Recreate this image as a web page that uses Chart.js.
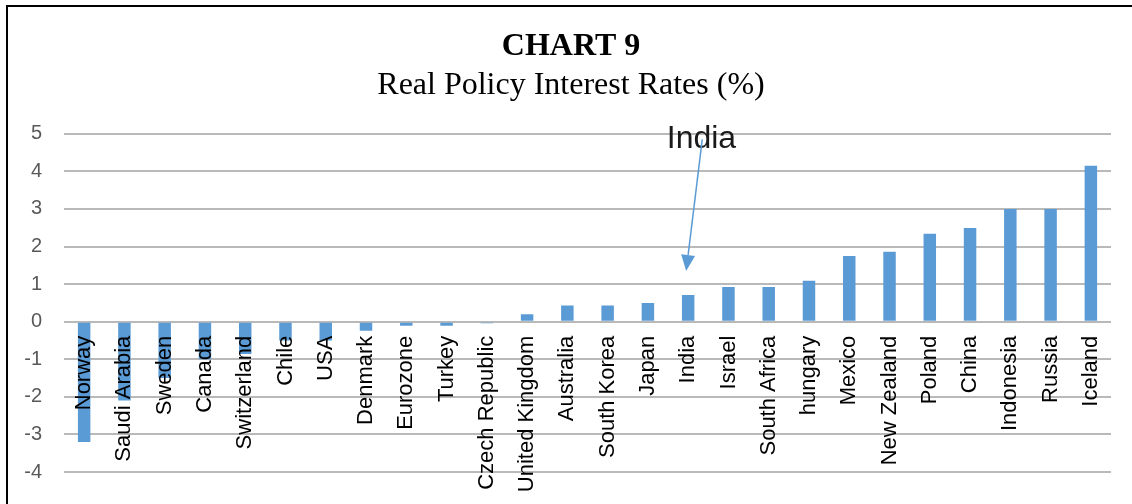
<!DOCTYPE html>
<html>
<head>
<meta charset="utf-8">
<script src="https://cdn.jsdelivr.net/npm/chart.js@4.4.1/dist/chart.umd.min.js"></script>
<style>
  html, body { margin: 0; padding: 0; background: #fff; }
  #wrap { width: 1132px; height: 504px; }
</style>
</head>
<body>
<div id="wrap"><canvas id="chart"></canvas></div>
<script>
// Countries, sorted by real policy rate
const countries = ['Norway', 'Saudi Arabia', 'Sweden', 'Canada', 'Switzerland', 'Chile', 'USA',
  'Denmark', 'Eurozone', 'Turkey', 'Czech Republic', 'United Kingdom', 'Australia', 'South Korea',
  'Japan', 'India', 'Israel', 'South Africa', 'hungary', 'Mexico', 'New Zealand', 'Poland',
  'China', 'Indonesia', 'Russia', 'Iceland']

// Real policy interest rate (%)
const realRates = [-3.2, -2.1, -1.5, -1.0, -0.86, -0.5, -0.5,
  -0.24, -0.11, -0.11, -0.04, 0.2, 0.43, 0.43,
  0.5, 0.71, 0.92, 0.92, 1.09, 1.75, 1.86, 2.34,
  2.49, 3.0, 3.0, 4.15]

const yTicks = [5, 4, 3, 2, 1, 0, -1, -2, -3, -4]

const highlight = 'India'

// frame around the whole chart (left + top edges visible)
const framePlugin = {
  id: 'frame',
  beforeDraw(chart) {
    const ctx = chart.ctx
    ctx.save()
    ctx.fillStyle = '#fff'
    ctx.fillRect(0, 0, chart.width, chart.height)
    ctx.strokeStyle = '#000'
    ctx.lineWidth = 2
    ctx.strokeRect(7, 6, chart.width + 20, chart.height + 20)
    ctx.restore()
  }
}

// "India" callout with arrow pointing at its bar
const calloutPlugin = {
  id: 'callout',
  afterDraw(chart) {
    const x = chart.scales.x
    const y = chart.scales.y
    const idx = countries.indexOf(highlight)
    const cx = x.getPixelForValue(idx)
    const step = x.getPixelForValue(1) - x.getPixelForValue(0)
    const ctx = chart.ctx
    ctx.save()

    ctx.fillStyle = '#1a1a1a'
    ctx.font = '32px "Liberation Sans", Arial, sans-serif'
    ctx.textAlign = 'center'
    ctx.textBaseline = 'middle'
    ctx.fillText(highlight, cx + step * 0.33, y.getPixelForValue(4.87))

    const x0 = cx + step * 0.35, y0 = y.getPixelForValue(4.85)
    const x1 = cx - step * 0.05, y1 = y.getPixelForValue(1.35)
    const ang = Math.atan2(y1 - y0, x1 - x0)
    const head = 16, half = 7
    const bx = x1 - head * Math.cos(ang), by = y1 - head * Math.sin(ang)
    ctx.strokeStyle = '#5b9bd5'
    ctx.fillStyle = '#5b9bd5'
    ctx.lineWidth = 1.5
    ctx.beginPath()
    ctx.moveTo(x0, y0)
    ctx.lineTo(bx, by)
    ctx.stroke()
    ctx.beginPath()
    ctx.moveTo(x1, y1)
    ctx.lineTo(bx + half * Math.sin(ang), by - half * Math.cos(ang))
    ctx.lineTo(bx - half * Math.sin(ang), by + half * Math.cos(ang))
    ctx.closePath()
    ctx.fill()
    ctx.restore()
  }
}

const ctx = document.getElementById('chart').getContext('2d')
new Chart(ctx, {
  type: 'bar',
  data: {
    labels: countries,
    datasets: [{
      label: 'Real Policy Interest Rate',
      data: realRates,
      backgroundColor: '#5b9bd5',
      borderWidth: 0,
      barPercentage: 0.31,
      categoryPercentage: 1
    }]
  },
  options: {
    responsive: true,
    maintainAspectRatio: false,
    animation: false,
    layout: { padding: { left: 24, right: 14, top: 0, bottom: 32 } },
    plugins: {
      legend: { display: false },
      tooltip: { enabled: false },
      title: {
        display: true,
        text: 'CHART 9',
        color: '#000',
        font: { family: '"Liberation Serif", "Times New Roman", serif', size: 32, weight: 'bold' },
        padding: { top: 28, bottom: 0 }
      },
      subtitle: {
        display: true,
        text: 'Real Policy Interest Rates (%)',
        color: '#000',
        font: { family: '"Liberation Serif", "Times New Roman", serif', size: 32 },
        padding: { top: 0, bottom: 29 }
      }
    },
    scales: {
      x: {
        position: { y: 0 },
        afterFit(axis) {
          // leave a little extra room on the right of the plot
          axis.paddingLeft = 0
          axis.paddingRight = 21
          axis.paddingTop = 0
          axis.paddingBottom = 0
        },
        grid: { display: false, drawTicks: false },
        border: { display: false },
        ticks: {
          z: 1,
          autoSkip: false,
          maxRotation: 90,
          minRotation: 90,
          padding: 14,
          color: '#000',
          font: { family: '"Liberation Sans", Arial, sans-serif', size: 22 }
        }
      },
      y: {
        min: -4,
        max: 5,
        afterBuildTicks(axis) {
          axis.ticks = yTicks.map(v => ({ value: v }))
        },
        afterFit(axis) {
          axis.width = 40
          axis.paddingTop = 0
          axis.paddingBottom = 0
        },
        grid: { color: '#b9b9b9', lineWidth: 2, drawTicks: false },
        border: { display: false },
        ticks: {
          padding: 22,
          color: '#595959',
          font: { family: '"Liberation Sans", Arial, sans-serif', size: 20 }
        }
      }
    }
  },
  plugins: [framePlugin, calloutPlugin]
})
</script>
</body>
</html>
